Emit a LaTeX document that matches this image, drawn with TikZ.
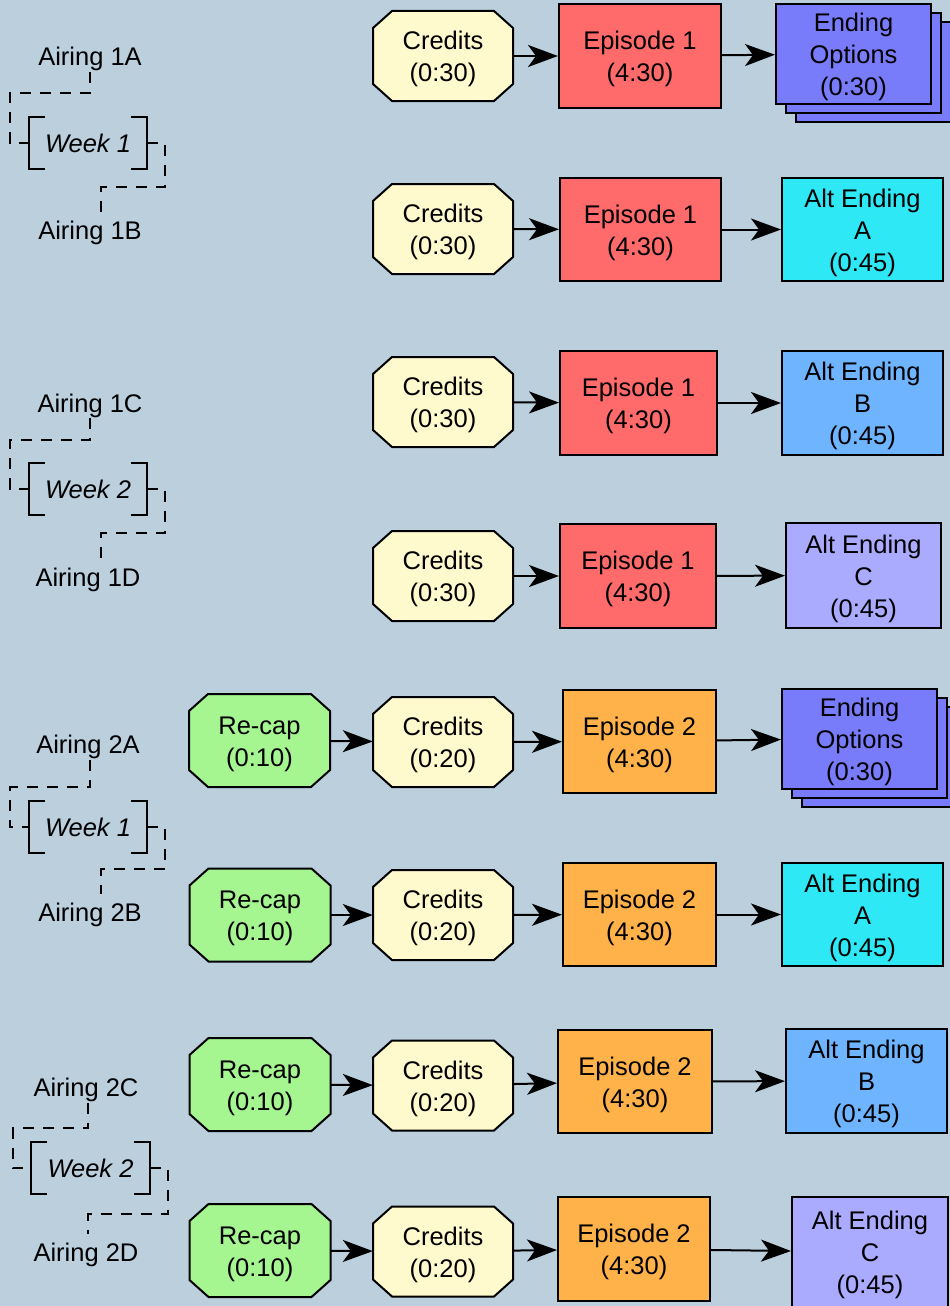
\documentclass[tikz,border=0pt]{standalone}
\usepackage{fontspec}
\setmainfont{Liberation Sans}
\usetikzlibrary{arrows.meta}

\definecolor{bg}{RGB}{187,207,221}
\definecolor{credfill}{RGB}{255,250,205}
\definecolor{ep1fill}{RGB}{255,106,106}
\definecolor{ep2fill}{RGB}{255,178,74}
\definecolor{recapfill}{RGB}{165,245,145}
\definecolor{optfill}{RGB}{120,124,250}
\definecolor{altafill}{RGB}{46,232,245}
\definecolor{altbfill}{RGB}{110,180,255}
\definecolor{altcfill}{RGB}{170,170,255}

\tikzset{
  lbl/.style={font=\fontsize{25.5pt}{32pt}\selectfont, align=center, inner sep=0pt},
  box/.style={lbl, draw=black, line width=2pt, rectangle},
  flow/.style={line width=2pt, -{Stealth[length=30pt,width=22pt,inset=8pt]}},
  dsh/.style={line width=2pt, dash pattern=on 11pt off 9pt},
  airing/.style={font=\fontsize{25.5pt}{32pt}\selectfont, inner sep=1pt, anchor=base},
  week/.style={font=\fontsize{25.5pt}{32pt}\selectfont\itshape, minimum width=118pt, minimum height=52pt, inner sep=0pt},
  bracket/.style={line width=2.2pt},
}

% a strut that lowers the text block a little inside its box
\newcommand\toplift{\rule{0pt}{24.5pt}}

% octagonal segment: name, x, y, width, height, fill, text
\newcommand\octbox[7]{%
  \filldraw[fill=#6, line width=2pt, line join=miter]
    ({#2-#4/2+19},{#3-#5/2}) -- ({#2+#4/2-19},{#3-#5/2}) -- ({#2+#4/2},{#3-#5/2+17})
    -- ({#2+#4/2},{#3+#5/2-17}) -- ({#2+#4/2-19},{#3+#5/2}) -- ({#2-#4/2+19},{#3+#5/2})
    -- ({#2-#4/2},{#3+#5/2-17}) -- ({#2-#4/2},{#3-#5/2+17}) -- cycle;
  \node[lbl, minimum width=#4pt, minimum height=#5pt] (#1) at (#2,#3) {\toplift#7};
}

% rectangular segment: name, x, y, width, height, fill, text
\newcommand\rectbox[7]{%
  \node[box, fill=#6, minimum width=#4pt, minimum height=#5pt] (#1) at (#2,#3) {\toplift#7};
}

% stacked "ending options" card: name, x, y of the front card
\newcommand\optstack[3]{%
  \node[box, fill=optfill, minimum width=155pt, minimum height=100pt] (#1c) at ({#2+20},{#3+18}) {};
  \node[box, fill=optfill, minimum width=155pt, minimum height=100pt] (#1b) at ({#2+10},{#3+9}) {};
  \node[box, fill=optfill, minimum width=155pt, minimum height=100pt] (#1) at (#2,#3) {\toplift Ending\\Options\\(0:30)};
}

% week label in square brackets: name, x, y, text
\newcommand\weekbox[4]{%
  \node[week] (#1) at (#2,#3) {#4};
  \draw[bracket] ([xshift=16pt]#1.north west) -- (#1.north west) -- (#1.south west) -- ([xshift=16pt]#1.south west);
  \draw[bracket] ([xshift=-16pt]#1.north east) -- (#1.north east) -- (#1.south east) -- ([xshift=-16pt]#1.south east);
}

\begin{document}
\begin{tikzpicture}[x=1pt, y=-1pt]
\fill[bg] (0,0) rectangle (950,1306);
\useasboundingbox (0,0) rectangle (950,1306);

% ---------------- Episode 1, week 1 ----------------
\octbox{c1}{443}{56}{140}{90}{credfill}{Credits\\(0:30)}
\rectbox{e1}{640}{56}{162}{104}{ep1fill}{Episode 1\\(4:30)}
\optstack{o1}{853.5}{54}
\draw[flow] (c1) -- (e1);
\draw[flow] (e1) -- (o1);

\octbox{c2}{443}{229}{140}{90}{credfill}{Credits\\(0:30)}
\rectbox{e2}{640.5}{229.5}{161}{103}{ep1fill}{Episode 1\\(4:30)}
\rectbox{f2}{862.5}{229.5}{161}{103}{altafill}{Alt Ending\\A\\(0:45)}
\draw[flow] (c2) -- (e2);
\draw[flow] (e2) -- (f2);

% ---------------- Episode 1, week 2 ----------------
\octbox{c3}{443}{402}{140}{90}{credfill}{Credits\\(0:30)}
\rectbox{e3}{638.5}{403}{157}{104}{ep1fill}{Episode 1\\(4:30)}
\rectbox{f3}{862.5}{403}{161}{104}{altbfill}{Alt Ending\\B\\(0:45)}
\draw[flow] (c3) -- (e3);
\draw[flow] (e3) -- (f3);

\octbox{c4}{443}{576}{140}{90}{credfill}{Credits\\(0:30)}
\rectbox{e4}{638}{576}{156}{104}{ep1fill}{Episode 1\\(4:30)}
\rectbox{f4}{863.5}{575.5}{155}{105}{altcfill}{Alt Ending\\C\\(0:45)}
\draw[flow] (c4) -- (e4);
\draw[flow] (e4) -- (f4);

% ---------------- Episode 2, week 1 ----------------
\octbox{r5}{259.5}{740.5}{141}{93}{recapfill}{Re-cap\\(0:10)}
\octbox{c5}{443}{742}{140}{90}{credfill}{Credits\\(0:20)}
\rectbox{e5}{639.5}{741.5}{153}{103}{ep2fill}{Episode 2\\(4:30)}
\optstack{o5}{859.5}{738.5}
\draw[flow] (r5) -- (c5);
\draw[flow] (c5) -- (e5);
\draw[flow] (e5) -- (o5);

\octbox{r6}{260}{915}{141}{93}{recapfill}{Re-cap\\(0:10)}
\octbox{c6}{443}{915}{140}{90}{credfill}{Credits\\(0:20)}
\rectbox{e6}{639.5}{914.5}{153}{103}{ep2fill}{Episode 2\\(4:30)}
\rectbox{f6}{862.5}{914.5}{161}{103}{altafill}{Alt Ending\\A\\(0:45)}
\draw[flow] (r6) -- (c6);
\draw[flow] (c6) -- (e6);
\draw[flow] (e6) -- (f6);

% ---------------- Episode 2, week 2 ----------------
\octbox{r7}{260}{1084.5}{141}{93}{recapfill}{Re-cap\\(0:10)}
\octbox{c7}{443}{1085.5}{140}{90}{credfill}{Credits\\(0:20)}
\rectbox{e7}{635}{1081.5}{154}{103}{ep2fill}{Episode 2\\(4:30)}
\rectbox{f7}{866.5}{1081}{161}{104}{altbfill}{Alt Ending\\B\\(0:45)}
\draw[flow] (r7) -- (c7);
\draw[flow] (c7) -- (e7);
\draw[flow] (e7) -- (f7);

\octbox{r8}{260}{1250.5}{141}{93}{recapfill}{Re-cap\\(0:10)}
\octbox{c8}{443}{1251.5}{140}{90}{credfill}{Credits\\(0:20)}
\rectbox{e8}{634}{1249}{152}{104}{ep2fill}{Episode 2\\(4:30)}
\rectbox{f8}{870}{1252}{156}{110}{altcfill}{Alt Ending\\C\\(0:45)}
\draw[flow] (r8) -- (c8);
\draw[flow] (c8) -- (e8);
\draw[flow] (e8) -- (f8);

% ---------------- airing groups ----------------
\node[airing] (a1) at (90,66) {Airing 1A};
\node[airing] (b1) at (90,239) {Airing 1B};
\weekbox{w1}{88}{143}{Week 1}
\draw[dsh] (a1.south) |- (10,93) |- (w1.west);
\draw[dsh, shorten >=7pt] (w1.east) -| (165,187) -| ([xshift=11pt]b1.north);

\node[airing] (a2) at (90,412) {Airing 1C};
\node[airing] (b2) at (88,586) {Airing 1D};
\weekbox{w2}{88}{489}{Week 2}
\draw[dsh] (a2.south) |- (10,440) |- (w2.west);
\draw[dsh, shorten >=7pt] (w2.east) -| (165,533) -| ([xshift=13pt]b2.north);

\node[airing] (a3) at (88,753) {Airing 2A};
\node[airing] (b3) at (90,921) {Airing 2B};
\weekbox{w3}{88}{827}{Week 1}
\draw[dsh] ([xshift=2pt]a3.south) |- (10,787) |- (w3.west);
\draw[dsh, shorten >=7pt] (w3.east) -| (165,869) -| ([xshift=11pt]b3.north);

\node[airing] (a4) at (86,1096) {Airing 2C};
\node[airing] (b4) at (86,1261) {Airing 2D};
\weekbox{w4}{90.5}{1168}{Week 2}
\draw[dsh] ([xshift=2pt]a4.south) |- (13,1128) |- (w4.west);
\draw[dsh, shorten >=7pt] (w4.east) -| (168,1214) -| ([xshift=2pt]b4.north);
\end{tikzpicture}
\end{document}
